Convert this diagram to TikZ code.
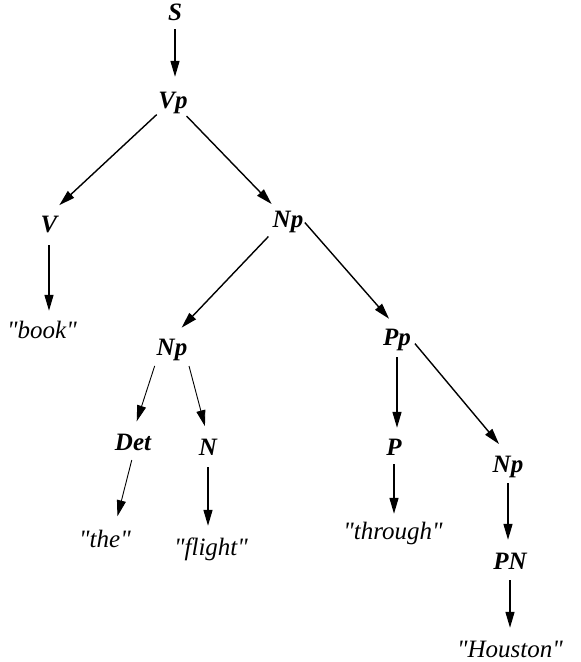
\documentclass[tikz,border=0pt]{standalone}
\usepackage{fontspec}
\setmainfont{Liberation Serif}[Ligatures=TeXOff]
\usetikzlibrary{arrows.meta}
\begin{document}
\begin{tikzpicture}[x=1pt,y=-1pt,
  nt/.style={font=\fontsize{25}{30}\selectfont\bfseries\itshape, inner sep=0pt, text height=17pt, text depth=5pt, anchor=base},
  tm/.style={font=\fontsize{25}{30}\selectfont\itshape, inner sep=0pt, text height=17pt, text depth=5pt, anchor=base},
  edge/.style={-{Triangle[length=16pt,width=9pt]}, line width=1.4pt, shorten <=4pt, shorten >=14pt},
  thin edge/.style={edge, line width=0.9pt}]
\useasboundingbox (0,0) rectangle (581,662);
\node[nt] (S) at (175,20) {S};
\node[nt] (Vp) at (173,108) {Vp};
\node[nt] (V) at (49,232) {V};
\node[tm] (book) at (42,338) {"book"};
\node[nt] (Np1) at (288,227) {Np};
\node[nt] (Np2) at (172,355) {Np};
\node[nt] (Pp) at (397,345) {Pp};
\node[nt] (Det) at (133,450) {Det};
\node[nt] (N) at (208,455) {N};
\node[nt] (P) at (394,455) {P};
\node[nt] (Np3) at (508,472) {Np};
\node[tm] (the) at (105,547) {"the"};
\node[tm] (flight) at (211,555) {"flight"};
\node[tm] (through) at (393,539) {"through"};
\node[nt] (PN) at (510,569) {PN};
\node[tm] (Houston) at (510,657) {"Houston"};
\draw[edge] (S.south) -- (S.south |- Vp.north);
\draw[edge, shorten <=2pt, shorten >=14pt] (Vp.south west) -- (V.north);
\draw[edge, shorten >=8pt] (Vp) -- (Np1);
\draw[edge, shorten <=8pt, shorten >=10pt] (V.south) -- (V.south |- book.north);
\draw[edge, shorten <=6pt, shorten >=14pt] (Np1.south west) -- (Np2.north);
\draw[edge, shorten <=2pt, shorten >=12pt] (Np1.east) -- (Pp.north);
\draw[thin edge, shorten <=6pt, shorten >=12pt] (Np2.south west) -- (Det.north);
\draw[thin edge, shorten <=6pt, shorten >=12pt] (Np2.south east) -- (N.north);
\draw[thin edge, shorten <=5pt, shorten >=14pt] (Det.south) -- ([xshift=9pt]the.north);
\draw[edge, shorten <=7pt, shorten >=12pt] (N.south) -- (N.south |- flight.north);
\draw[edge, shorten <=7pt, shorten >=10pt] (Pp.south) -- (Pp.south |- P.north);
\draw[edge, shorten <=6pt, shorten >=14pt] (Pp.east) -- (Np3.north);
\draw[edge, shorten <=4pt, shorten >=8pt] (P.south) -- (P.south |- through.north);
\draw[edge, shorten <=6pt, shorten >=12pt] (Np3.south) -- (Np3.south |- PN.north);
\draw[edge, shorten <=6pt, shorten >=12pt] (PN.south) -- (PN.south |- Houston.north);
\end{tikzpicture}
\end{document}
